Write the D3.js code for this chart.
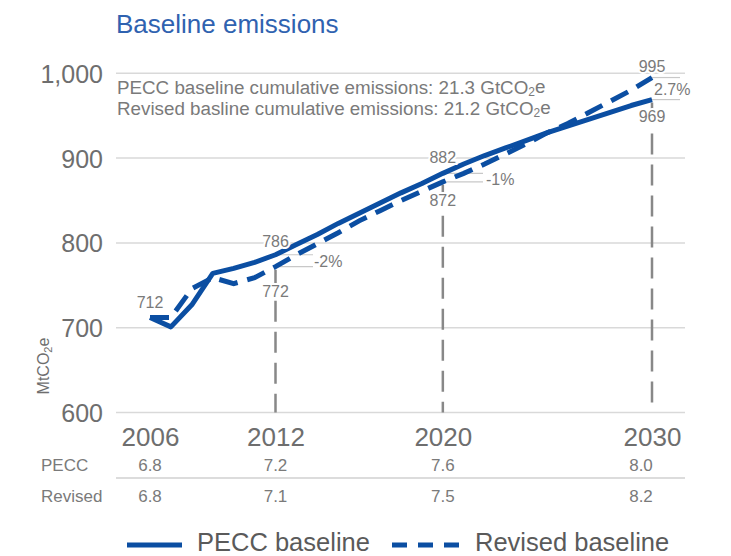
<!DOCTYPE html>
<html>
<head>
<meta charset="utf-8">
<script src="https://cdn.jsdelivr.net/npm/d3@7"></script>
<style>
  html, body { margin: 0; padding: 0; background: #fff; }
  svg { display: block; font-family: "Liberation Sans", Arial, Helvetica, sans-serif; }
</style>
</head>
<body>
<svg id="chart" width="731" height="556"></svg>
<script>
// ---------------- data ----------------
const years = [2006,2007,2008,2009,2010,2011,2012,2013,2014,2015,2016,2017,2018,2019,2020,2021,2022,2023,2024,2025,2026,2027,2028,2029,2030];
const peccBaseline = [712,701,727,764,770,777,786,798,810,823,835,847,859,870,882,893,903,912,921,930,938,946,954,962,969];
const revisedBaseline = [712,712,746,759,752,759,772,786,799,812,826,838,850,861,872,882,893,905,917,930,941,954,967,980,995];
const yTicks = [600,700,800,900,1000];
const xTickYears = [2006,2012,2020,2030];
const tablePecc = ["6.8","7.2","7.6","8.0"];
const tableRevised = ["6.8","7.1","7.5","8.2"];
const markYears = [2012,2020,2030];
const markPecc = [786,882,969];
const markRevised = [772,872,995];
const markPct = ["-2%","-1%","2.7%"];
const title = "Baseline emissions";
const seriesNames = ["PECC baseline","Revised baseline"];

// ---------------- layout ----------------
const svg = d3.select("#chart");
const x = d3.scaleLinear().domain([2006,2030]).range([150,652]);
const y = d3.scaleLinear().domain([600,1000]).range([412.5,73.3]);
const gridL = 116, gridR = 685;
const blue = "#0b4ea2";
const gray = "#7a7a7a";

// title
svg.append("text").attr("x",116).attr("y",33).attr("font-size",26)
  .attr("fill","#2f62b0").text(title);

// gridlines
svg.append("g").selectAll("line").data(yTicks).join("line")
  .attr("x1",gridL).attr("x2",gridR)
  .attr("y1",d=>y(d)).attr("y2",d=>y(d))
  .attr("stroke","#d9d9d9").attr("stroke-width",1.5);

// y axis tick labels
const yAxis = d3.axisLeft(y).tickValues(yTicks).tickSize(0).tickPadding(0)
  .tickFormat(d3.format(","));
const ga = svg.append("g").attr("transform","translate(103,0)").call(yAxis);
ga.select(".domain").remove();
ga.selectAll("text").attr("font-size",25).attr("fill","#6e6e6e")
  .attr("font-family","Liberation Sans, Arial, sans-serif").attr("dy","0.36em");

// y axis title
const yt = svg.append("text").attr("transform","translate(49,366) rotate(-90)")
  .attr("text-anchor","middle").attr("font-size",16).attr("fill","#6e6e6e");
yt.append("tspan").text("MtCO");
yt.append("tspan").attr("font-size",11).attr("dy","0.3em").text("2");
yt.append("tspan").attr("dy","-0.2em").text("e");

// x axis tick labels
const xAxis = d3.axisBottom(x).tickValues(xTickYears).tickSize(0).tickPadding(0)
  .tickFormat(d3.format("d"));
const gx = svg.append("g").attr("transform","translate(0,425)").call(xAxis);
gx.select(".domain").remove();
gx.selectAll("text").attr("font-size",26).attr("fill","#6e6e6e")
  .attr("font-family","Liberation Sans, Arial, sans-serif").attr("dy","0.8em");

// vertical gray dashed lines from points to axis
svg.append("g").selectAll("line").data(markYears).join("line")
  .attr("x1",d=>x(d)).attr("x2",d=>x(d))
  .attr("y1",(d,i)=>y(Math.min(markPecc[i],markRevised[i]))+3)
  .attr("y2",y(600))
  .attr("stroke","#888").attr("stroke-width",2.5)
  .attr("stroke-dasharray","21,10");

// bracket lines
const brRight = [313,483,680];
const br = svg.append("g");
markYears.forEach((yr,i)=>{
  [markPecc[i],markRevised[i]].forEach(v=>{
    br.append("line").attr("x1",x(yr)).attr("x2",brRight[i])
      .attr("y1",y(v)).attr("y2",y(v))
      .attr("stroke","#c8c8c8").attr("stroke-width",1.2);
  });
});

// lines
const line = d3.line().x((d,i)=>x(years[i])).y(d=>y(d));
svg.append("path").datum(peccBaseline).attr("d",line)
  .attr("fill","none").attr("stroke",blue).attr("stroke-width",5)
  .attr("stroke-linejoin","round");
svg.append("path").datum(revisedBaseline).attr("d",line)
  .attr("fill","none").attr("stroke",blue).attr("stroke-width",5)
  .attr("stroke-dasharray","19,10");

// value labels
const lab = svg.append("g").attr("font-size",16).attr("fill",gray)
  .attr("text-anchor","middle")
  .attr("stroke","#fff").attr("stroke-width",4).attr("paint-order","stroke");
lab.append("text").attr("x",x(2006)).attr("y",y(peccBaseline[0])-10).text(peccBaseline[0]);
const aboveOff = [-8,-10,-6];
const belowOff = [30,24,22];
markYears.forEach((yr,i)=>{
  const hi = Math.max(markPecc[i],markRevised[i]);
  const lo = Math.min(markPecc[i],markRevised[i]);
  lab.append("text").attr("x",x(yr)).attr("y",y(hi)+aboveOff[i]).text(hi);
  lab.append("text").attr("x",x(yr)).attr("y",y(lo)+belowOff[i]).text(lo);
});
// percentage labels
const pctX = [314,486,654];
const pctDy = [0,3,-5];
markYears.forEach((yr,i)=>{
  svg.append("text").attr("x",pctX[i])
    .attr("y",y(Math.min(markPecc[i],markRevised[i]))+pctDy[i])
    .attr("font-size",16).attr("fill",gray).text(markPct[i]);
});

// cumulative notes
const notes = [["PECC baseline cumulative emissions: 21.3 GtCO","e"],
               ["Revised basline cumulative emissions: 21.2 GtCO","e"]];
notes.forEach((n,i)=>{
  const t = svg.append("text").attr("x",117).attr("y",94+21*i)
    .attr("font-size",18.8).attr("fill",gray);
  t.append("tspan").text(n[0]);
  t.append("tspan").attr("font-size",12).attr("dy","0.2em").text("2");
  t.append("tspan").attr("dy","-0.2em").text(n[1]);
});

// table
const tbl = svg.append("g").attr("font-size",17).attr("fill",gray);
tbl.append("text").attr("x",41).attr("y",471).text("PECC");
tbl.append("text").attr("x",41).attr("y",502).text("Revised");
const colX = [0,0,0,-11];
xTickYears.forEach((yr,i)=>{
  tbl.append("text").attr("x",x(yr)+colX[i]).attr("y",471).attr("text-anchor","middle").text(tablePecc[i]);
  tbl.append("text").attr("x",x(yr)+colX[i]).attr("y",502).attr("text-anchor","middle").text(tableRevised[i]);
});
svg.append("line").attr("x1",gridL).attr("x2",gridR).attr("y1",478).attr("y2",478)
  .attr("stroke","#d0d0d0").attr("stroke-width",1.5);

// legend
const lg = svg.append("g");
lg.append("line").attr("x1",127).attr("x2",182).attr("y1",545).attr("y2",545)
  .attr("stroke",blue).attr("stroke-width",5);
lg.append("text").attr("x",197).attr("y",551).attr("font-size",25.5).attr("fill","#5a5a5a").text(seriesNames[0]);
lg.append("line").attr("x1",392).attr("x2",460).attr("y1",545).attr("y2",545)
  .attr("stroke",blue).attr("stroke-width",5).attr("stroke-dasharray","15,11");
lg.append("text").attr("x",475).attr("y",551).attr("font-size",25.5).attr("fill","#5a5a5a").text(seriesNames[1]);
</script>
</body>
</html>
